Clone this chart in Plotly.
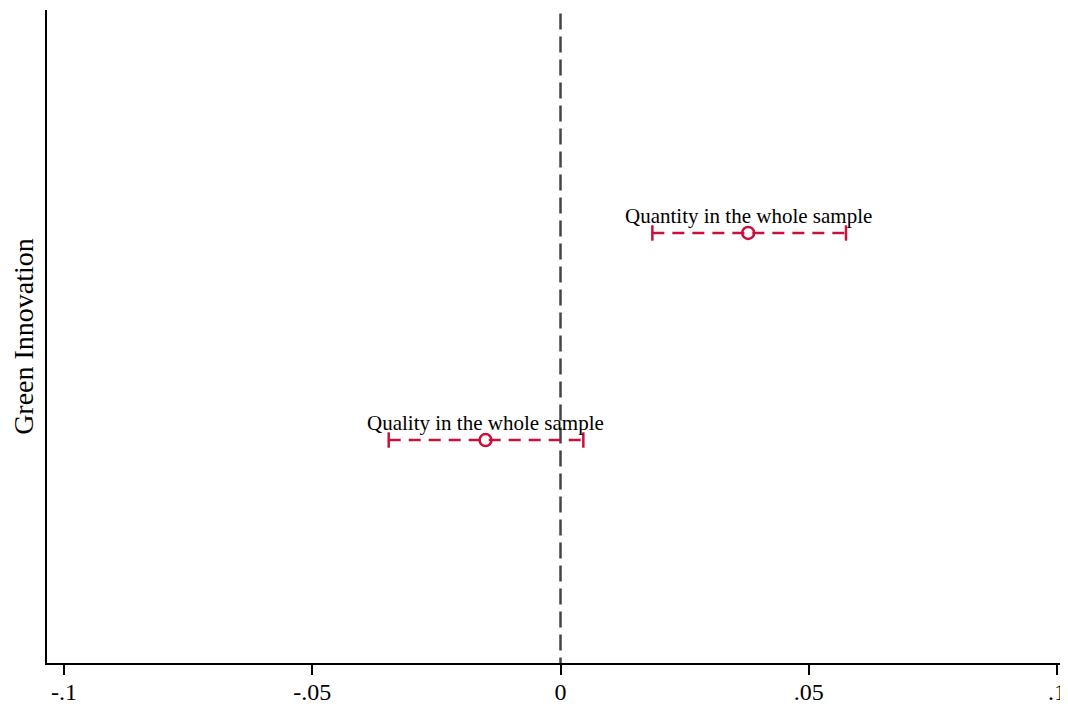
import plotly.graph_objects as go

labels = ["Quantity in the whole sample", "Quality in the whole sample"]
ypos = [1, 2]
estimates = [0.0378, -0.0151]
ci_low = [0.0185, -0.0346]
ci_high = [0.0575, 0.0046]
tick_vals = [-0.1, -0.05, 0, 0.05, 0.1]
tick_text = ["-.1", "-.05", "0", ".05", ".1"]

red = "#C8103C"
fig = go.Figure()

# zero reference line
fig.add_trace(go.Scatter(x=[0, 0], y=[-0.06, 3.2], mode="lines",
                         line=dict(color="#444444", width=2.5, dash="16px,7px"),
                         showlegend=False, hoverinfo="skip"))

for lab, y, e, lo, hi in zip(labels, ypos, estimates, ci_low, ci_high):
    fig.add_trace(go.Scatter(x=[lo, hi], y=[y, y], mode="lines+markers",
                             line=dict(color=red, width=2.5, dash="12px,8px"),
                             marker=dict(symbol="line-ns-open", size=11,
                                         line=dict(color=red, width=2.5)),
                             showlegend=False, hoverinfo="skip"))
    fig.add_trace(go.Scatter(x=[e], y=[y], mode="markers",
                             marker=dict(symbol="circle-open", size=12,
                                         color=red, line=dict(color=red, width=2.5)),
                             showlegend=False))
    fig.add_annotation(x=e, y=y, text=lab, showarrow=False, yshift=17,
                       font=dict(family="Liberation Serif", size=21, color="black"))

fig.update_layout(
    width=1060, height=700,
    margin=dict(l=39, r=0, t=2, b=45),
    paper_bgcolor="white", plot_bgcolor="white",
    font=dict(family="Liberation Serif", color="black"),
    xaxis=dict(range=[-0.10342, 0.10221], tickvals=tick_vals, ticktext=tick_text,
               ticks="outside", ticklen=10, tickwidth=1.5, tickcolor="black",
               ticklabelstandoff=-4,
               showline=True, linecolor="black", linewidth=2,
               showgrid=False, zeroline=False,
               tickfont=dict(family="Liberation Serif", size=24, color="black")),
    yaxis=dict(range=[3.077, -0.077], showticklabels=False, ticks="",
               showline=True, linecolor="black", linewidth=2,
               showgrid=False, zeroline=False,
               title=dict(text="Green Innovation", standoff=6,
                          font=dict(family="Liberation Serif", size=28, color="black"))),
)

fig.write_html("out.html")
